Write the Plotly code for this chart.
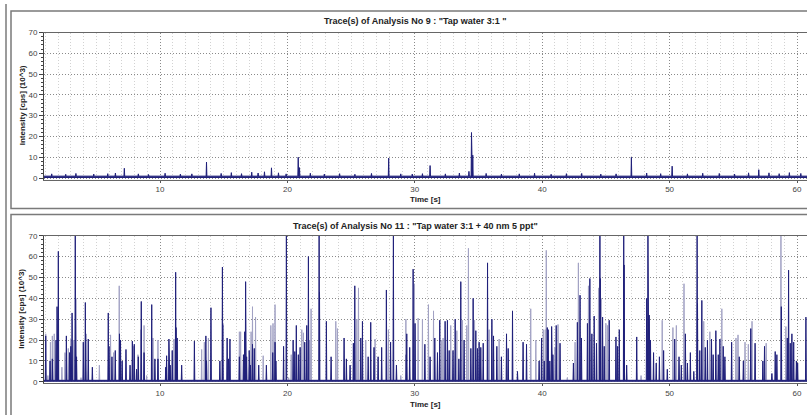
import plotly.graph_objects as go

W, H = 807, 415

# ---------------- data ----------------
# Top panel: "Tap water 3:1" - spike times [s] and intensities [10^3 cps]
top_spike_t = [7.2, 13.65, 18.2, 18.75, 20.85, 20.95, 27.95, 31.2, 34.25, 34.45, 34.55,
               47.0, 50.2, 57.0, 57.8]
top_spike_h = [4.7, 7.7, 3.0, 4.9, 10.0, 5.0, 9.6, 6.0, 3.2, 21.9, 11.0,
               10.0, 5.7, 4.0, 2.5]
# small baseline bumps of the top trace
top_noise_t = [1.5, 2.6, 3.4, 4.8, 5.9, 6.5, 8.3, 9.1, 10.4, 11.6, 12.5, 14.8, 15.6, 16.4,
               17.2, 17.7, 19.3, 19.9, 21.8, 22.9, 24.1, 25.3, 26.6, 28.9, 29.8, 30.6,
               32.4, 33.5, 35.6, 36.8, 38.2, 39.4, 40.7, 41.9, 43.1, 44.6, 45.8, 48.2,
               49.3, 51.4, 52.6, 53.9, 55.1, 56.2, 58.6, 59.4, 60.3]
top_noise_h = [2.0, 1.8, 2.2, 1.9, 2.1, 2.4, 2.0, 1.7, 2.3, 1.9, 2.0, 2.2, 2.6, 2.1,
               2.8, 2.4, 2.5, 2.0, 2.3, 1.9, 2.1, 1.8, 2.2, 2.0, 1.9, 2.1,
               2.0, 2.4, 2.2, 1.9, 2.0, 2.3, 1.8, 2.1, 2.2, 1.9, 2.0, 2.4,
               2.1, 2.0, 2.3, 2.2, 1.9, 2.5, 2.1, 2.6, 2.2]
top_baseline = 0.9

# Bottom panel: "Tap water 3:1 + 40 nm 5 ppt" - dark (dense) spikes
bot_dark_t = [1.03, 1.37, 1.55, 1.84, 1.92, 2.02, 2.65, 2.9, 3.0, 3.1, 3.35, 3.38, 3.45, 3.98,
              4.14, 4.17, 4.37, 4.69, 5.94, 6.0, 6.23, 6.49, 6.82, 6.9, 7.03, 7.33, 7.65, 7.83,
              7.98, 8.16, 8.3, 8.53, 8.75, 9.35, 9.6, 9.84, 10.45, 10.52, 10.7, 10.8, 10.96,
              11.23, 11.26, 11.35, 11.7, 12.7, 13.6, 13.65, 14.0, 14.7, 14.9, 14.93, 15.27,
              15.38, 15.49, 16.23, 16.55, 16.65, 16.72, 16.8, 17.0, 17.1, 17.26, 17.4, 17.75,
              18.35, 18.85, 19.03, 19.1,
              19.7, 19.92, 20.45, 20.58, 20.7, 20.86, 21.0, 21.36, 21.52, 21.65, 22.49, 22.52,
              23.06, 23.43, 24.45, 24.63, 24.92, 25.18, 25.29, 25.76, 25.89, 26.34, 26.54,
              26.8, 27.12, 27.4, 27.77, 28.1, 28.32, 28.56, 29.33, 29.37, 29.6, 29.87, 30.02,
              30.79, 31.2, 31.57, 31.78, 31.96, 32.38, 32.56, 32.7, 33.0, 33.17, 33.46, 33.61,
              33.87, 34.4, 34.58, 34.79, 34.92, 35.05, 35.18, 35.37, 35.71, 36.05, 36.18,
              36.44, 36.8, 37.2, 37.33, 37.67, 38.06, 38.5, 38.77, 39.76, 39.95,
              40.16, 40.4, 40.47, 40.6, 40.74, 40.84, 41.1, 41.4, 42.45, 42.76, 42.97, 43.08,
              43.55, 43.74, 43.9, 44.08, 44.26, 44.53, 44.56, 44.74, 44.87, 45.26, 45.79,
              45.92, 46.05, 46.4, 46.43, 46.63, 47.42, 48.2, 48.3, 48.4, 48.5, 48.74, 48.95,
              49.2, 49.53, 49.82, 50.4, 50.74, 50.92, 51.24, 51.4, 51.63, 51.9, 52.16, 52.19,
              52.37, 52.53, 52.8, 52.97, 53.29, 53.42, 53.63, 53.82, 53.95, 54.21, 54.34,
              54.87, 55.47, 55.79, 56.37, 56.71, 57.32, 57.45, 58.03, 58.29, 58.42, 58.77,
              59.24, 59.34, 59.47, 59.6, 59.74, 59.95, 60.05, 60.7]
bot_dark_h = [22, 10, 11, 20, 36, 62.5, 22, 14, 17, 33, 71, 40, 12, 19,
              38, 23, 20.5, 7, 33, 17, 12, 15, 23, 20, 10, 15.5, 8, 19.5,
              18, 6, 12, 38.5, 14, 37, 11, 11, 7, 12.5, 20.5, 8, 15,
              52.5, 26, 21, 8, 19.5, 22, 10, 35.5, 10, 55, 27.5, 21,
              11, 20.5, 12, 13, 24, 48, 12, 15, 8, 18, 16, 8,
              8, 14, 19, 10,
              17, 71, 20, 14.5, 27, 13, 16.5, 19, 27, 60, 71, 43,
              29, 12, 21, 11, 8, 18.5, 46, 21, 29, 12, 28.5,
              16.5, 12, 16.5, 44, 19, 71, 8, 13, 23, 16.5, 54, 28,
              18, 12, 21, 14, 29.5, 29, 29.5, 15, 15, 30, 11, 48,
              20, 16, 40, 24.5, 16, 19, 16.5, 18.5, 57, 30, 22,
              17, 12, 23, 16, 34, 5, 19, 18, 10, 21,
              10, 26, 25, 10, 26.5, 13, 27, 18.5, 9, 28.5, 41.5, 21,
              28, 49.5, 23, 31.5, 18.5, 71, 49.5, 31, 17, 29.5, 21.5,
              17, 25, 71, 56, 8, 21.5, 40, 71, 32, 20, 14, 9,
              12, 15, 6, 20.5, 12, 8, 23, 9, 14, 5, 71, 37.5,
              15, 39, 16.5, 20, 20.5, 13, 24.5, 13, 20.5, 17, 12,
              19, 12, 10, 25.5, 18.5, 10, 17, 4, 14.5, 13, 36,
              21, 53.5, 18.5, 23, 19, 10, 9, 31]

# Bottom panel - lighter (thin, anti-aliased looking) spikes
bot_light_t = [1.03, 1.2, 1.4, 1.55, 1.7, 2.3, 2.54, 2.8, 3.0, 3.24, 3.8, 5.24, 6.12, 6.36,
               6.8, 7.9, 8.27, 8.5, 8.75, 8.95, 9.45, 9.84, 11.1, 13.27, 13.48, 13.8, 16.23,
               16.33, 17.15, 17.26, 17.5, 18.1, 18.7, 18.87, 19.03,
               20.1, 20.3, 21.13, 21.26, 21.75, 21.86, 23.8, 23.93, 25.45, 25.58, 26.15,
               26.88, 27.93, 28.9, 29.3, 29.97, 30.26, 30.6, 31.07, 31.47, 32.12, 32.22,
               32.82, 33.3, 33.74, 34.08, 34.21, 34.69, 35.84, 36.62, 39.1, 39.5, 40.08, 40.24,
               40.32, 41.0, 41.24, 41.97, 42.58, 42.84, 43.63, 44.42, 44.63, 45.0, 45.13,
               47.76, 49.42, 50.26, 50.53, 51.13, 52.68, 53.16, 54.1, 55.21, 55.37, 55.92,
               56.18, 56.47, 57.58, 58.74, 59.13]
bot_light_h = [23, 3, 19, 22, 23, 7, 14, 16, 20.5, 20, 2, 8, 22.5, 14,
               46, 17, 13, 25, 27, 3, 21, 20, 20.5, 15.5, 19, 21, 24,
               24, 24, 36, 31, 12.5, 27, 28, 37,
               2, 13, 25, 23.5, 20, 35, 29, 25.5, 30, 45, 20,
               20.5, 25, 3, 30, 47, 30.5, 30, 37, 34, 20, 21,
               27, 24.5, 29.5, 27, 64, 29.5, 25, 20.5, 35, 20, 25, 25,
               63, 16.5, 27.5, 2, 19, 57, 46, 45, 40, 28, 27,
               3, 29.5, 26, 27, 47, 29, 24, 35, 21, 22.5, 19,
               18, 29, 18.5, 71, 26.5]
bot_baseline = 0.7

y_ticks = [0, 10, 20, 30, 40, 50, 60, 70]
x_ticks = [10, 20, 30, 40, 50, 60]
top_title = 'Trace(s) of Analysis No 9 : "Tap water 3:1 "'
bot_title = 'Trace(s) of Analysis No 11 : "Tap water 3:1 + 40 nm 5 ppt"'
x_title = "Time [s]"
y_title = "Intensity [cps] (10^3)"

# ---------------- helpers ----------------
def spikes(ts, hs, base, w=0.03):
    pairs = sorted(zip(ts, hs))
    xs, ys = [0.0], [base]
    for t, h in pairs:
        xs += [t - w, t, t + w]
        ys += [base, h, base]
    xs.append(62.0)
    ys.append(base)
    return xs, ys

DARK = "#20207a"
LIGHT = "#a2a2c4"

fig = go.Figure()

# top panel
tx, ty = spikes(top_spike_t + top_noise_t, top_spike_h + top_noise_h, top_baseline)
fig.add_trace(go.Scatter(x=tx, y=ty, mode="lines", line=dict(color=DARK, width=1),
                         fill="tozeroy", fillcolor=DARK, xaxis="x", yaxis="y",
                         hoverinfo="skip", showlegend=False))

# bottom panel
lx, ly = spikes(bot_light_t, bot_light_h, bot_baseline)
fig.add_trace(go.Scatter(x=lx, y=ly, mode="lines", line=dict(color=LIGHT, width=1),
                         fill="tozeroy", fillcolor=LIGHT, xaxis="x2", yaxis="y2",
                         hoverinfo="skip", showlegend=False))
dx, dy = spikes(bot_dark_t, bot_dark_h, bot_baseline)
fig.add_trace(go.Scatter(x=dx, y=dy, mode="lines", line=dict(color=DARK, width=1),
                         fill="tozeroy", fillcolor=DARK, xaxis="x2", yaxis="y2",
                         hoverinfo="skip", showlegend=False))

def px(x):
    return x / W

def py(y):
    return 1 - y / H

FONT = "Liberation Sans, Arial, sans-serif"
x_range = [0.895, 60.785]
y_range = [-0.8, 70]

def xaxis_cfg(anchor):
    return dict(domain=[px(44), 1.0], range=x_range, anchor=anchor,
                tickmode="array", tickvals=x_ticks, ticks="outside", ticklen=2,
                tickcolor="#555", tickfont=dict(family=FONT, size=8, color="#444"),
                showgrid=True, gridcolor="#8a8a8a", griddash="1px,2px", gridwidth=1,
                minor=dict(dtick=1, tick0=0, showgrid=True, gridcolor="#d2d2d2",
                           griddash="1px,2px", ticks=""),
                showline=True, linecolor="#666", linewidth=1, mirror=True,
                zeroline=False, fixedrange=True)

def yaxis_cfg(anchor, dom):
    return dict(domain=dom, range=y_range, anchor=anchor,
                tickmode="array", tickvals=y_ticks, ticks="outside", ticklen=4,
                tickcolor="#444", tickfont=dict(family=FONT, size=8, color="#444"),
                showgrid=True, gridcolor="#8a8a8a", griddash="1px,2px", gridwidth=1,
                minor=dict(dtick=2, tick0=0, ticks="outside", ticklen=2,
                           tickcolor="#444", showgrid=False),
                showline=True, linecolor="#444", linewidth=1,
                zeroline=False, fixedrange=True)

top_dom = [py(178.7), py(29)]
bot_dom = [py(386.0), py(235.7)]

fig.update_layout(
    width=W, height=H, margin=dict(l=0, r=0, t=0, b=0),
    paper_bgcolor="white", plot_bgcolor="white",
    xaxis=xaxis_cfg("y"), yaxis=yaxis_cfg("x", top_dom),
    xaxis2=xaxis_cfg("y2"), yaxis2=yaxis_cfg("x2", bot_dom),
    showlegend=False,
)

ann = []
for title, ty_, xt_y, yl_y in [(top_title, 17, 199, 103), (bot_title, 226, 407, 310)]:
    ann.append(dict(text="<b>%s</b>" % title, x=px(416), y=py(ty_), xref="paper", yref="paper",
                    showarrow=False, xanchor="center", yanchor="middle",
                    font=dict(family=FONT, size=9, color="#222")))
    ann.append(dict(text="<b>%s</b>" % x_title, x=px(425), y=py(xt_y), xref="paper", yref="paper",
                    showarrow=False, xanchor="center", yanchor="middle",
                    font=dict(family=FONT, size=8, color="#222")))
    ann.append(dict(text="<b>%s</b>" % y_title, x=px(22), y=py(yl_y), xref="paper", yref="paper",
                    showarrow=False, xanchor="center", yanchor="middle", textangle=-90,
                    font=dict(family=FONT, size=8, color="#222")))
fig.update_layout(annotations=ann)

FRAME = "#7a7a7a"
shapes = [
    dict(type="line", xref="paper", yref="paper", x0=px(6), x1=px(6), y0=py(0), y1=py(420),
         line=dict(color=FRAME, width=1.5)),
    dict(type="rect", xref="paper", yref="paper", x0=px(11), x1=px(830), y0=py(208), y1=py(7),
         line=dict(color=FRAME, width=1.5)),
    dict(type="rect", xref="paper", yref="paper", x0=px(11), x1=px(830), y0=py(440), y1=py(214),
         line=dict(color=FRAME, width=1.5)),
]
fig.update_layout(shapes=shapes)

fig.write_html("out.html", config={"displayModeBar": False},
               post_script="document.body.style.margin='0px';document.body.style.overflow='hidden';")
